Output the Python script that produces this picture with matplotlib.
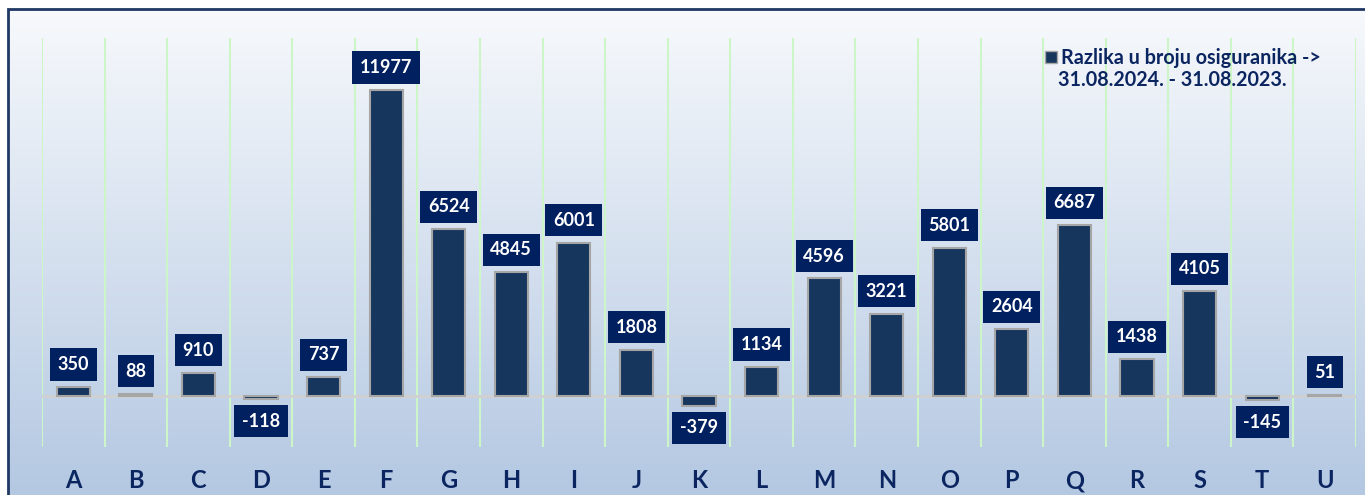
import numpy as np
import matplotlib.pyplot as plt
from matplotlib.patches import Rectangle
from matplotlib.lines import Line2D

# ---- data ----
cats = list("ABCDEFGHIJKLMNOPQRSTU")
vals = [350, 88, 910, -118, 737, 11977, 6524, 4845, 6001, 1808, -379,
        1134, 4596, 3221, 5801, 2604, 6687, 1438, 4105, -145, 51]
legend_lines = ["Razlika u broju osiguranika ->", "31.08.2024. - 31.08.2023."]

NAVY = "#17365D"
BOX = "#002060"
INK = "#0B2560"
GRIDC = "#CCF5C8"

plt.rcParams["font.family"] = ["Lato", "DejaVu Sans"]
W, H = 1365, 495
fig = plt.figure(figsize=(W/100, H/100), dpi=100)
fig.patch.set_facecolor("white")

# gradient background inside frame
bg = fig.add_axes([8/W, 0, 1 - 8/W, 1 - 9/H], zorder=0)
grad = np.linspace(0, 1, 256)[:, None]
top = np.array([0xF7, 0xF9, 0xFC]) / 255
bot = np.array([0xB4, 0xC8, 0xE2]) / 255
img = top[None, None, :] * (1 - grad[:, :, None]) + bot[None, None, :] * grad[:, :, None]
bg.imshow(img, aspect="auto", extent=[0, 1, 0, 1])
bg.set_axis_off()
fig.add_artist(Rectangle((8/W, -0.05), 1.2, 1 - 9/H + 0.05, transform=fig.transFigure,
                         fill=False, ec="#1F3864", lw=2, zorder=5))

ax = fig.add_axes([42/W, (H-447)/H, (1356-42)/W, (447-38)/H], zorder=1)
ax.patch.set_alpha(0)
x = np.arange(len(cats))
ax.bar(x, vals, 0.53, color=NAVY, edgecolor="#A6A6A6", lw=1.5, zorder=3)
ax.axhline(0, color="#D0D0D0", lw=2, zorder=2)
ax.set_xlim(-0.5, len(cats) - 0.5)
ax.set_ylim(-2000, 14010)
ax.set_xticks(x)
ax.set_xticklabels(cats, fontsize=17, fontweight="bold", color=INK)
ax.set_xticks(np.arange(-0.5, len(cats), 1), minor=True)
ax.grid(axis="x", which="minor", color=GRIDC, lw=1.5, zorder=1)
ax.tick_params(axis="x", which="both", length=0, pad=16)
ax.set_yticks([])
for s in ax.spines.values():
    s.set_visible(False)

for xi, v in zip(x, vals):
    off = 10 if v >= 0 else -10
    ax.annotate(str(v), (xi, v), xytext=(0, off), textcoords="offset points",
                ha="center", va="bottom" if v >= 0 else "top",
                fontsize=13, fontweight="bold", color="white", zorder=4,
                bbox=dict(boxstyle="square,pad=0.42", fc=BOX, ec="none"))

h = [Line2D([0], [0], marker="s", ls="", ms=9, mfc=NAVY, mec="#A6A6A6",
            label=legend_lines[0])]
fig.legend(handles=h, loc="upper left", bbox_to_anchor=(1033/W, 1 - 38/H),
           frameon=False, handletextpad=0.1, handlelength=0.8, borderpad=0,
           labelcolor=INK, prop={"weight": "bold", "size": 14.2})
fig.text(1058/W, 1 - 80/H, legend_lines[1], ha="left", va="center",
         fontsize=14.2, fontweight="bold", color=INK)

fig.savefig("out.png", dpi=100)
